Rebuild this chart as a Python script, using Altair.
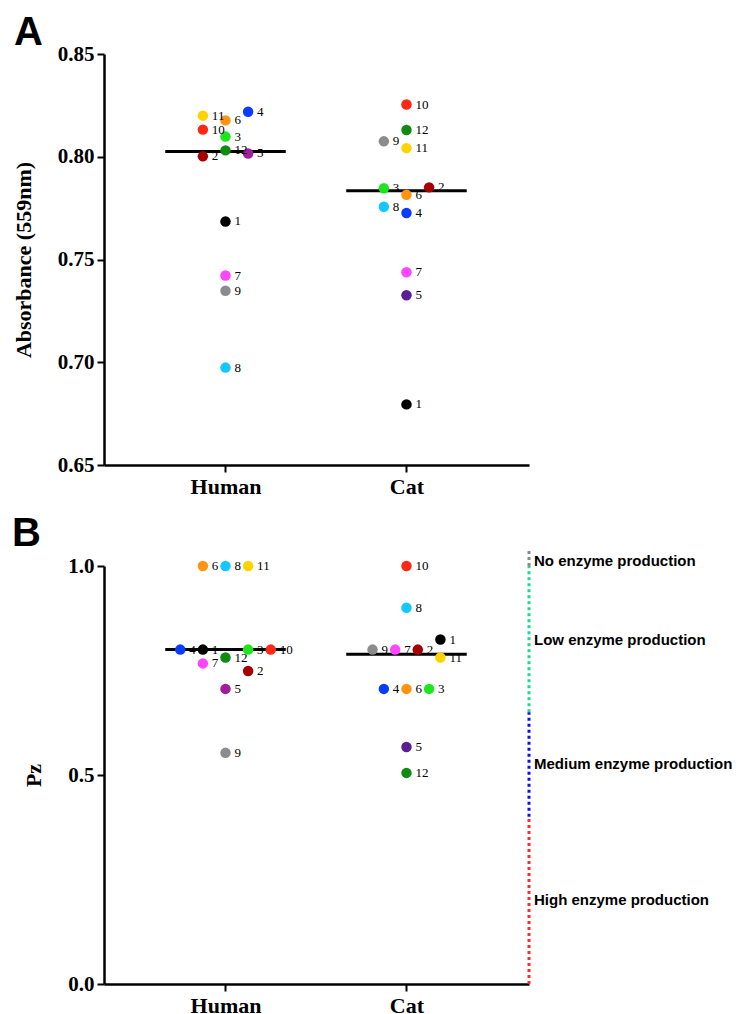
import altair as alt
import pandas as pd

# ---------------- data ----------------
ids = [str(i) for i in range(1, 13)]
group_names = ["Human", "Cat"]
group_pos = [1, 2]

# Panel A : Absorbance (559nm)
a_human_vals = [0.7685, 0.8002, 0.8098, 0.8219, 0.8016, 0.8177, 0.7422, 0.6974, 0.7348, 0.8132, 0.8200, 0.8031]
a_human_slot = [0, -1, 0, 1, 1, 0, 0, 0, 0, -1, -1, 0]
a_cat_vals = [0.6795, 0.7851, 0.7847, 0.7726, 0.7326, 0.7815, 0.7438, 0.7757, 0.8075, 0.8254, 0.8042, 0.8130]
a_cat_slot = [0, 1, -1, 0, 0, 0, 0, -1, -1, 0, 0, 0]
a_medians = [0.8025, 0.7835]

# Panel B : Pz
b_human_vals = [0.80, 0.749, 0.80, 0.80, 0.706, 1.0, 0.767, 1.0, 0.553, 0.80, 1.0, 0.781]
b_human_slot = [-1, 1, 1, -2, 0, -1, -1, 0, 0, 2, 1, 0]
b_cat_vals = [0.824, 0.80, 0.706, 0.706, 0.567, 0.706, 0.80, 0.90, 0.80, 1.0, 0.781, 0.505]
b_cat_slot = [1.5, 0.5, 1, -1, 0, 0, -0.5, 0, -1.5, 0, 1.5, 0]
b_medians = [0.80, 0.789]

human_colors = ["#000000", "#a80000", "#1ee61e", "#0a3cff", "#a01e9c", "#ff9414",
                "#ff46ff", "#14c8ff", "#8c8c8c", "#ff2814", "#ffd200", "#0f8c0f"]
cat_colors = ["#000000", "#a80000", "#1ee61e", "#0a3cff", "#5a1e96", "#ff9414",
              "#ff46ff", "#14c8ff", "#8c8c8c", "#ff2814", "#ffd200", "#0f8c0f"]

# Pz classification bands
band_labels = ["No enzyme production", "Low enzyme production",
               "Medium enzyme production", "High enzyme production"]
band_lo = [1.0, 0.65, 0.40, 0.0]
band_hi = [1.04, 1.0, 0.65, 0.40]
band_label_y = [1.012, 0.823, 0.526, 0.200]
band_colors = ["#888888", "#22d68e", "#1010e0", "#ff2a2a"]

# ---------------- layout constants ----------------
STEP = 0.125
HALF = 0.333
XDOM = [0.3287, 2.677]
W = 425
SERIF = "Liberation Serif"
SANS = "Liberation Sans"


def make_df(hv, hs, cv, cs):
    rows = []
    for g, vals, slots, cols in [(group_pos[0], hv, hs, human_colors), (group_pos[1], cv, cs, cat_colors)]:
        for i, v, s, c in zip(ids, vals, slots, cols):
            rows.append({"id": i, "value": v, "slot": s, "color": c, "g": g})
    return pd.DataFrame(rows)


def panel(df, medians, ydom, yvals, yfmt, ytitle, height, letter, ldx, ldy, extra=None):
    xenc = alt.X("x:Q", scale=alt.Scale(domain=XDOM, nice=False, zero=False),
                 axis=alt.Axis(values=group_pos, title=None, grid=False,
                               labelExpr="datum.value == 1 ? 'Human' : 'Cat'",
                               labelFontSize=22, labelPadding=4))
    yenc = alt.Y("value:Q", scale=alt.Scale(domain=ydom, nice=False, zero=False),
                 axis=alt.Axis(values=yvals, format=yfmt, title=ytitle, grid=False))
    base = alt.Chart(df).transform_calculate(x=f"datum.g + datum.slot * {STEP}")
    med_df = pd.DataFrame({"g": group_pos, "value": medians})
    med = alt.Chart(med_df).transform_calculate(
        xa=f"datum.g - {HALF}", xb=f"datum.g + {HALF}"
    ).mark_rule(strokeWidth=3, color="black").encode(
        x=alt.X("xa:Q", title=None), x2="xb:Q", y=alt.Y("value:Q", title=ytitle))
    pts = base.mark_circle(size=110, opacity=1).encode(
        x=xenc, y=yenc, color=alt.Color("color:N", scale=None))
    lbl = base.mark_text(align="left", baseline="middle", dx=9, font=SERIF,
                         fontSize=13, color="black").encode(
        x=alt.X("x:Q", title=None), y=alt.Y("value:Q", title=ytitle), text="id:N")
    layers = [med, pts, lbl]
    if extra:
        layers += extra
    return alt.layer(*layers).properties(
        width=W, height=height,
        title=alt.TitleParams(letter, anchor="start", frame="group", font=SANS,
                              fontSize=40, fontWeight="bold", color="black",
                              dx=ldx, dy=ldy, offset=8, baseline="alphabetic"))


df_a = make_df(a_human_vals, a_human_slot, a_cat_vals, a_cat_slot)
df_b = make_df(b_human_vals, b_human_slot, b_cat_vals, b_cat_slot)

band_df = pd.DataFrame({"label": band_labels, "lo": band_lo, "hi": band_hi,
                        "ly": band_label_y, "color": band_colors})
band_rule = alt.Chart(band_df).mark_rule(strokeWidth=3, strokeDash=[3, 3]).encode(
    x=alt.datum(XDOM[1]), y=alt.Y("lo:Q", title="Pz"), y2="hi:Q",
    color=alt.Color("color:N", scale=None))
band_text = alt.Chart(band_df).mark_text(align="left", baseline="middle", dx=5,
                                         font=SANS, fontSize=15, fontWeight="bold",
                                         color="black").encode(
    x=alt.datum(XDOM[1]), y=alt.Y("ly:Q", title="Pz"), text="label:N")

panel_a = panel(df_a, a_medians, [0.65, 0.85], [0.65, 0.70, 0.75, 0.80, 0.85], ".2f",
                "Absorbance (559nm)", 411, "A", -90, 50)
panel_b = panel(df_b, b_medians, [0.0, 1.0], [0.0, 0.5, 1.0], ".1f",
                "Pz", 418, "B", -92, 46, extra=[band_rule, band_text])

chart = alt.vconcat(panel_a, panel_b, spacing=16).properties(
    padding={"left": 4, "top": 5, "right": 0, "bottom": 0}
).configure_view(stroke=None).configure_axis(
    domainColor="black", domainWidth=2.5, tickColor="black", tickWidth=2, tickSize=7,
    labelFont=SERIF, labelFontWeight="bold", labelFontSize=21, labelColor="black",
    labelPadding=3, titleFont=SERIF, titleFontWeight="bold", titleFontSize=22,
    titleColor="black", titlePadding=22
)

chart.save("out.html", embed_options={"renderer": "svg", "actions": False})
